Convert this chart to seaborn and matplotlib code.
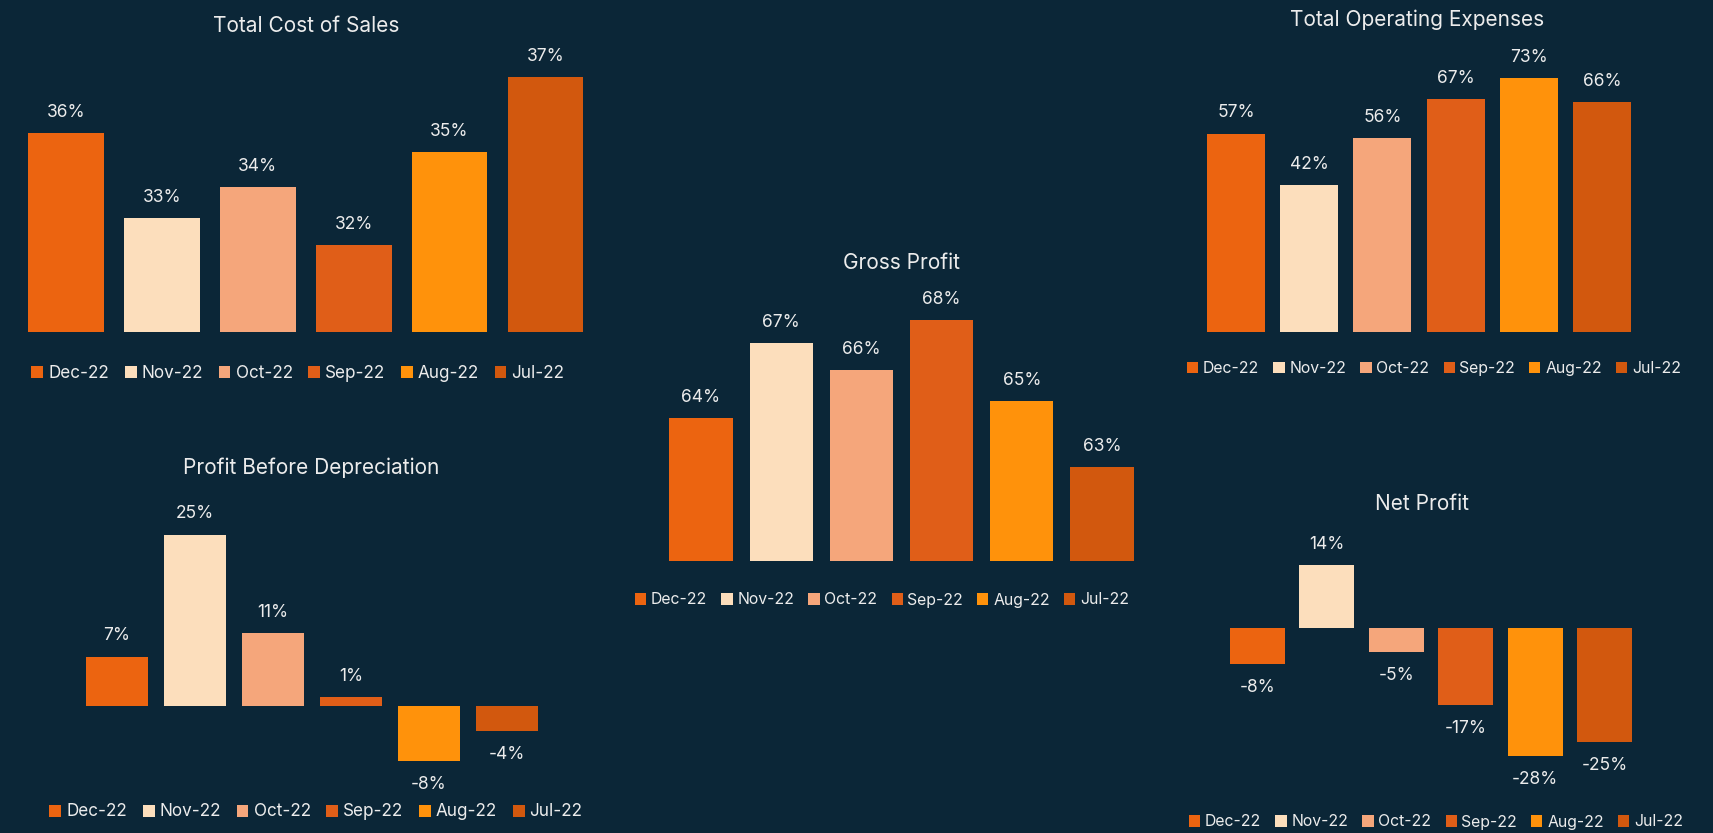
import matplotlib
matplotlib.use("Agg")
import matplotlib.pyplot as plt
from matplotlib.patches import Patch
import seaborn as sns
import pandas as pd

# ---------------- data ----------------
months = ["Dec-22", "Nov-22", "Oct-22", "Sep-22", "Aug-22", "Jul-22"]
month_colors = ["#EC6410", "#FCDEBC", "#F5A67B", "#E05E18", "#FF920B", "#D2580E"]

cost_of_sales = [35.65, 33.15, 34.06, 32.36, 35.09, 37.3]
operating_expenses = [57.0, 42.2, 55.7, 67.0, 73.0, 66.1]
gross_profit = [64.33, 66.92, 65.99, 67.71, 64.92, 62.64]
profit_before_dep = [7.2, 25.0, 10.6, 1.3, -8.0, -3.6]
net_profit = [-7.9, 13.8, -5.3, -16.9, -28.0, -24.9]

titles = ["Total Cost of Sales", "Total Operating Expenses", "Gross Profit",
          "Profit Before Depreciation", "Net Profit"]

# ---------------- style ----------------
BG = "#0B2637"
TXT = "#ECECEC"
sns.set_theme(style="white")
plt.rcParams["font.family"] = ["Inter", "DejaVu Sans"]

W, H = 1713, 833
fig = plt.figure(figsize=(W / 100, H / 100), dpi=100, facecolor=BG)


def place(left, right, top, bottom):
    return fig.add_axes([left / W, 1 - bottom / H, (right - left) / W, (bottom - top) / H])


def panel(values, title, c0, pitch, top_px, bot_px, base_px, base_val, k,
          title_xy, legend_xy, legend_fs):
    left = c0 - 0.5 * pitch
    right = c0 + 5.5 * pitch
    ax = place(left, right, top_px, bot_px)
    ax.set_facecolor(BG)
    df = pd.DataFrame({"month": months, "value": values})
    sns.barplot(data=df, x="month", y="value", hue="month", palette=month_colors,
                order=months, hue_order=months, dodge=False, width=0.79,
                legend=False, ax=ax, saturation=1, linewidth=0, edgecolor="none")
    ax.set_xlim(-0.5, 5.5)
    ymin = base_val - (bot_px - base_px) / k
    ymax = base_val + (base_px - top_px) / k
    ax.set_ylim(ymin, ymax)
    for i, v in enumerate(values):
        yref = max(v, ymin) if v >= 0 else v
        off = 15 if v >= 0 else -17
        ax.annotate(f"{round(v):d}%", (i, yref), xytext=(0, off), textcoords="offset points",
                    ha="center", va="center", color=TXT, fontsize=12.5, annotation_clip=False)
    ax.axis("off")
    fig.text(title_xy[0] / W, 1 - title_xy[1] / H, title, ha="center", va="center",
             color=TXT, fontsize=15)
    handles = [Patch(facecolor=c, edgecolor="none") for c in month_colors]
    fig.legend(handles, months, loc="center",
               bbox_to_anchor=(legend_xy[0] / W, 1 - legend_xy[1] / H),
               ncol=6, frameon=False, fontsize=legend_fs, labelcolor=TXT,
               handlelength=0.7, handleheight=0.7, handletextpad=0.3,
               columnspacing=0.9)
    return ax


panel(cost_of_sales, titles[0], 66, 95.9, 60, 332, 332, 29.8, 34.0, (306, 26), (298, 373), 12.3)
panel(operating_expenses, titles[1], 1236, 73.2, 60, 332, 332, 0.0, 3.48, (1417, 20), (1434, 369), 11.4)
panel(gross_profit, titles[2], 701, 80.2, 300, 561, 561, 59.4, 29.0, (902, 263), (882, 600), 11.4)
panel(profit_before_dep, titles[3], 117, 78.0, 500, 790, 706, 0.0, 6.85, (311, 468), (316, 812), 12.3)
panel(net_profit, titles[4], 1257.5, 69.4, 530, 800, 628, 0.0, 4.57, (1422, 504), (1436, 822), 11.4)

fig.savefig("out.png", dpi=100, facecolor=BG)
